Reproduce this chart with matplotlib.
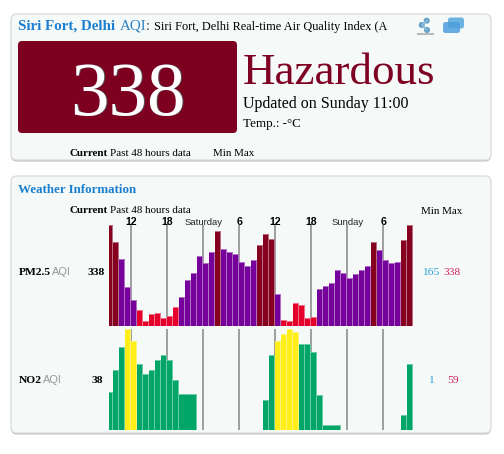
import numpy as np
import matplotlib
matplotlib.use("Agg")
import matplotlib.pyplot as plt
from matplotlib.colors import to_rgb
from matplotlib.patches import Circle, FancyBboxPatch
from matplotlib.transforms import Bbox

# ------------------------------------------------------------
# Data
# ------------------------------------------------------------

nan = float("nan")

pm25 = [338, 307, 276, 226, 202, 185, 165, 177, 179, 169, 173, 189, 208,
        239, 252, 282, 270, 290, 328, 295, 290, 286, 271, 264, 274, 302,
        321, 312, 213, 167, 165, 197, 193, 170, 171, 222, 227, 234, 257,
        252, 243, 249, 257, 264, 308, 293, 274, 270, 272, 310, 338]

no2 = [21, 34, 48, 59, 52, 38, 32, 34, 40, 43, 40, 28, 19.5, 19.5, 19.5,
       nan, nan, nan, nan, nan, nan, nan, nan, nan, nan, nan,
       16, 43, 52, 56, 59, 57, 49.7, 50, 45, 19, 1, 1, 1,
       nan, nan, nan, nan, nan, nan, nan, nan, nan, nan, 7, 38]

tick_index = [4, 10, 16, 22, 28, 34, 40, 46]
tick_labels = ["12", "18", "Saturday", "6", "12", "18", "Sunday", "6"]

# AQI colour bands
band_colors = ["#00a668", "#ffee17", "#e4002b", "#76009a", "#86001f"]

SERIF = "Liberation Serif"
SANS = "Liberation Sans"
BLUE = "#1a7fd0"
CARD = "#f5f9f8"
W, H = 504, 454


def band_color(v):
    if v <= 50:
        return band_colors[0]
    if v <= 100:
        return band_colors[1]
    if v <= 200:
        return band_colors[2]
    if v <= 300:
        return band_colors[3]
    return band_colors[4]


def lighten(color, amount=0.45):
    c = np.array(to_rgb(color))
    return tuple(c + (np.array(to_rgb(CARD)) - c) * amount)


def px(size):
    # css pixels to points at dpi 100
    return size * 72 / 100


fig = plt.figure(figsize=(W / 100, H / 100), dpi=100, facecolor="white")

# whole figure in pixel coordinates for the cards and the text
bg = fig.add_axes([0, 0, 1, 1])
bg.set_xlim(0, W)
bg.set_ylim(H, 0)
bg.axis("off")


def card(x0, y0, x1, y1):
    bg.add_patch(FancyBboxPatch((x0, y0 + 1.5), x1 - x0, y1 - y0,
                                boxstyle="round,pad=0,rounding_size=6",
                                fc="#a8a8a8", ec="none", alpha=0.8))
    bg.add_patch(FancyBboxPatch((x0, y0), x1 - x0, y1 - y0,
                                boxstyle="round,pad=0,rounding_size=6",
                                fc=CARD, ec="#dcdcdc", lw=1))


def label(x, y, s, size, color="black", weight="normal", family=SERIF, **kw):
    return bg.text(x, y, s, fontsize=px(size), color=color, fontweight=weight,
                   family=family, va="baseline", **kw)


card(11, 14, 491, 160)
card(11, 176, 491, 433)

# ------------------------------------------------------------
# Top card
# ------------------------------------------------------------

label(18.5, 30, "Siri Fort, Delhi", 15, BLUE, "bold")
label(119.5, 30, "AQI", 15, "#2f80c4")
label(146, 30, ":", 14, "#333333")
head = label(153.5, 30, "Siri Fort, Delhi Real-time Air Quality Index (AQI)", 12.2)
head.set_clip_box(Bbox.from_extents(0, H - 45, 388, H))
head.set_clip_on(True)

bg.add_patch(FancyBboxPatch((18, 41), 219, 92,
                            boxstyle="round,pad=0,rounding_size=4",
                            fc="#7e0020", ec="none"))
label(128.5, 115.5, "338", 77, "#555555", ha="center")
label(127.8, 114.8, "338", 77, "white", ha="center")

label(243, 84, "Hazardous", 45, "#7e0023")
label(243, 108, "Updated on Sunday 11:00", 16)
label(243, 127, "Temp.: -°C", 13)

label(70, 156, "Current", 11, weight="bold")
label(110.5, 156, "Past 48 hours data", 11)
label(213, 156, "Min Max", 11)

# share icon
bg.plot([427, 421.7, 427], [20.7, 25, 30], color="#8fb8d4", lw=1.4)
for cx, cy, r in [(426.7, 20.7, 3), (421.7, 25, 3), (427, 30, 3)]:
    bg.add_patch(Circle((cx, cy), r, fc="#5f9fc9", ec="none"))
bg.plot([417.5, 433], [34, 34], color="#b5bbb9", lw=1.5)

# window icon
bg.add_patch(FancyBboxPatch((448, 17.5), 16, 11,
                            boxstyle="round,pad=0,rounding_size=2.5",
                            fc="#6cb3e2", ec="none"))
bg.add_patch(FancyBboxPatch((443, 22), 17, 11,
                            boxstyle="round,pad=0,rounding_size=2.5",
                            fc="#4d9fdc", ec="none", alpha=0.85))

# ------------------------------------------------------------
# Weather card text
# ------------------------------------------------------------

label(18, 193, "Weather Information", 13, BLUE, "bold")
label(70, 213, "Current", 11, weight="bold")
label(110.5, 213, "Past 48 hours data", 11)
label(421, 213.5, "Min Max", 11)

label(18.5, 275, "PM2.5", 11.5, weight="bold")
label(52, 275, "AQI", 11, "#999999", family=SANS)
label(88, 275, "338", 11.5, weight="bold")
label(422, 275, "165", 11.5, "#2a9fd8")
label(443, 275, "338", 11.5, "#d8215a")

label(18.5, 383, "NO2", 11.5, weight="bold")
label(43, 383, "AQI", 11, "#999999", family=SANS)
label(91, 383, "38", 11.5, weight="bold")
label(428, 383, "1", 11.5, "#2a9fd8")
label(447, 383, "59", 11.5, "#d8215a")


# ------------------------------------------------------------
# Bars
# ------------------------------------------------------------

def draw_panel(values, y_top, y_bottom, low, high, show_labels):
    ax = fig.add_axes([109 / W, 1 - y_bottom / H, 304 / W, (y_bottom - y_top) / H])
    ax.set_xlim(1 / 3, 1 / 3 + 304 / 6)
    ax.set_ylim(low, high)
    ax.axis("off")
    cap = (high - low) / (y_bottom - y_top)

    for i in tick_index:
        ax.axvline(i + 0.05, color="#858585", lw=1.1, zorder=1)

    for i, v in enumerate(values):
        if np.isnan(v):
            continue
        color = band_color(v)
        joined = i + 1 < len(values) and values[i + 1] == v
        ax.bar(i, v - low, bottom=low, width=1, align="edge",
               color=lighten(color), zorder=2, linewidth=0)
        ax.bar(i, v - low - cap, bottom=low, width=1 if joined else 5 / 6,
               align="edge", color=color, zorder=3, linewidth=0)

    if show_labels:
        for i, s in zip(tick_index, tick_labels):
            is_day = s.isalpha()
            ax.annotate(s, (i + 0.05, high), xytext=(0, 0), textcoords="offset points",
                        ha="center", va="baseline", annotation_clip=False,
                        fontsize=px(9.5 if is_day else 10.5), family=SANS,
                        color="#222222" if is_day else "black",
                        fontweight="normal" if is_day else "bold")
    return ax


draw_panel(pm25, 225, 326, 155.4, 338, True)
draw_panel(no2, 329, 430, -2.0, 59, False)

fig.savefig("out.png", dpi=100, facecolor="white")
